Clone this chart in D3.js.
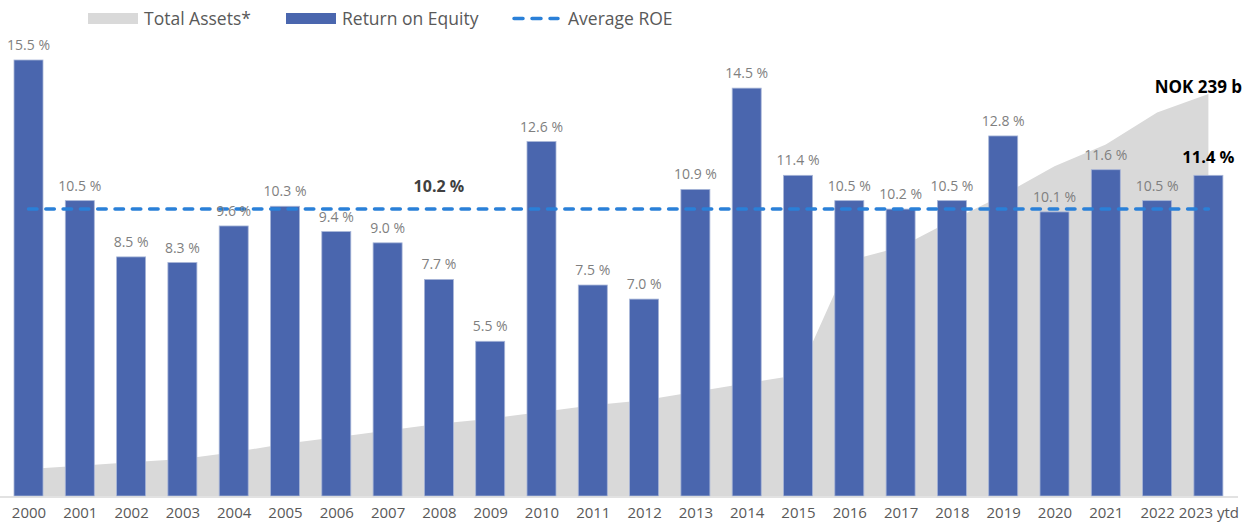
<!DOCTYPE html>
<html>
<head>
<meta charset="utf-8">
<script src="https://cdn.jsdelivr.net/npm/d3@7/dist/d3.min.js"></script>
<style>
  html, body { margin: 0; padding: 0; background: #fff; }
  svg { display: block; font-family: "Open Sans", sans-serif; }
</style>
</head>
<body>
<svg id="chart" width="1256" height="523"></svg>
<script>
const categories = ["2000","2001","2002","2003","2004","2005","2006","2007","2008","2009","2010","2011","2012","2013","2014","2015","2016","2017","2018","2019","2020","2021","2022","2023 ytd"];
const roe = [15.5,10.5,8.5,8.3,9.6,10.3,9.4,9.0,7.7,5.5,12.6,7.5,7.0,10.9,14.5,11.4,10.5,10.2,10.5,12.8,10.1,11.6,10.5,11.4];
const totalAssets = [16,18,20,22,26,31,35,39,43,46,50,54,57,62,67,72,140,148,164,179,196,209,228,239];
const averageROE = 10.2;
const legendLabels = ["Total Assets*", "Return on Equity", "Average ROE"];
const assetsEndLabel = "NOK 239 b";

const svg = d3.select("#chart");
const baseY = 496;

const x = d3.scalePoint().domain(categories).range([28.5, 1208.4]);
const barW = 29;
const y = d3.scaleLinear().domain([0, 15.5]).range([baseY, 60]);
const yA = d3.scaleLinear().domain([0, 239]).range([baseY, 94]);

// Total assets area
const area = d3.area()
  .x((d, i) => x(categories[i]))
  .y0(baseY)
  .y1(d => yA(d));
svg.append("path")
  .datum(totalAssets)
  .attr("d", area)
  .attr("fill", "#d9d9d9");

// Bars
svg.append("g").selectAll("rect")
  .data(roe)
  .join("rect")
  .attr("x", (d, i) => x(categories[i]) - barW / 2)
  .attr("width", barW)
  .attr("y", d => y(d))
  .attr("height", d => baseY - y(d))
  .attr("fill", "#4a66ae")
  .attr("stroke", "#a8b6d8")
  .attr("stroke-width", 0.8);

// Axis
const xAxis = d3.axisBottom(x).tickSize(0).tickPadding(10);
const gx = svg.append("g").attr("transform", `translate(0,${baseY + 1})`).call(xAxis);
gx.select(".domain").remove();
svg.append("line")
  .attr("x1", 0).attr("x2", 1238)
  .attr("y1", baseY + 1).attr("y2", baseY + 1)
  .attr("stroke", "#d9d9d9").attr("stroke-width", 1.5);
gx.selectAll("text")
  .attr("fill", "#595959")
  .style("font-size", "15px")
  .style("font-family", "'Open Sans', sans-serif");

// Average line
svg.append("line")
  .attr("x1", x(categories[0]))
  .attr("x2", x(categories[categories.length - 1]))
  .attr("y1", y(averageROE)).attr("y2", y(averageROE))
  .attr("stroke", "#2a80d8")
  .attr("stroke-width", 3.5)
  .attr("stroke-linecap", "round")
  .attr("stroke-dasharray", "8.5 8.8");

// Average label
svg.append("text")
  .attr("x", x(categories[8]))
  .attr("y", y(averageROE) - 17)
  .attr("text-anchor", "middle")
  .attr("font-weight", "bold")
  .attr("font-size", 16)
  .attr("fill", "#404040")
  .text(d3.format(".1f")(averageROE) + " %");

// Value labels
const last = roe.length - 1;
svg.append("g").selectAll("text")
  .data(roe)
  .join("text")
  .attr("x", (d, i) => x(categories[i]))
  .attr("y", (d, i) => y(d) - (i === last ? 12 : 10))
  .attr("text-anchor", "middle")
  .attr("font-size", (d, i) => i === last ? 16.5 : 14)
  .attr("font-weight", (d, i) => i === last ? "bold" : "normal")
  .attr("fill", (d, i) => i === last ? "#000" : "#7f7f7f")
  .text(d => d3.format(".1f")(d) + " %");

// NOK label
svg.append("text")
  .attr("x", x(categories[last]) - 10)
  .attr("y", yA(totalAssets[last]) - 1)
  .attr("text-anchor", "middle")
  .attr("font-weight", "bold")
  .attr("font-size", 17)
  .attr("fill", "#000")
  .text(assetsEndLabel);

// Legend
const lg = svg.append("g").attr("font-size", 17.5).attr("fill", "#595959");
lg.append("rect").attr("x", 88).attr("y", 13).attr("width", 50).attr("height", 11).attr("fill", "#d9d9d9");
lg.append("text").attr("x", 144).attr("y", 24.5).text(legendLabels[0]);
lg.append("rect").attr("x", 286).attr("y", 13).attr("width", 50).attr("height", 11).attr("fill", "#4a66ae");
lg.append("text").attr("x", 342).attr("y", 24.5).text(legendLabels[1]);
lg.append("line").attr("x1", 514).attr("x2", 558).attr("y1", 18.5).attr("y2", 18.5)
  .attr("stroke", "#2a80d8").attr("stroke-width", 3.5).attr("stroke-linecap", "round").attr("stroke-dasharray", "9 9");
lg.append("text").attr("x", 568).attr("y", 24.5).text(legendLabels[2]);
</script>
</body>
</html>
